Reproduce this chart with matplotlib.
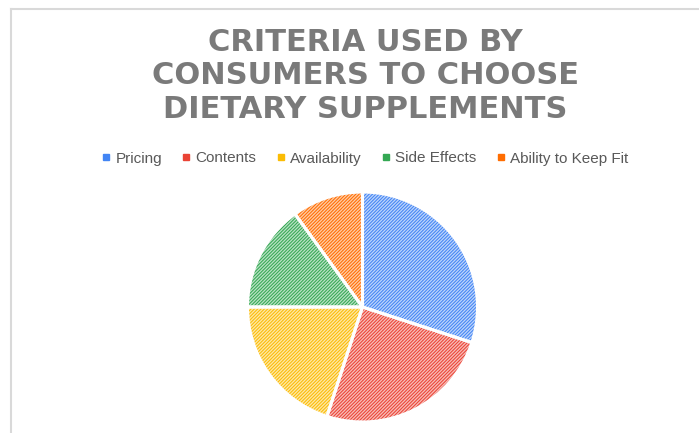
import matplotlib
matplotlib.use("Agg")
import matplotlib.pyplot as plt
from matplotlib.lines import Line2D
import matplotlib.colors as mcolors

title = "CRITERIA USED BY\nCONSUMERS TO CHOOSE\nDIETARY SUPPLEMENTS"
categories = ["Pricing", "Contents", "Availability", "Side Effects", "Ability to Keep Fit"]
values = [30, 25, 20, 15, 10]
colors = ["#4285F4", "#EA4335", "#FBBC04", "#34A853", "#FF6D01"]

plt.rcParams['hatch.linewidth'] = 0.75

W, H = 699, 433
fig = plt.figure(figsize=(W / 100, H / 100), dpi=100)
fig.patch.set_facecolor("white")

# chart border (light gray, runs off right/bottom)
fig.add_artist(Line2D([11 / W, 1], [1 - 8.5 / H, 1 - 8.5 / H], color="#d9d9d9", lw=1.5, transform=fig.transFigure))
fig.add_artist(Line2D([11 / W, 11 / W], [0, 1 - 8.5 / H], color="#d9d9d9", lw=1.5, transform=fig.transFigure))

fig.text(365 / W, 1 - 76 / H, title, ha="center", va="center", fontsize=22,
         fontweight="bold", color="#7a7a7a", family="DejaVu Sans", linespacing=1.19)

# pie
cx, cy, r = 362.5, 307, 115
ax = fig.add_axes([(cx - r) / W, (H - cy - r) / H, 2 * r / W, 2 * r / H])
tints = [mcolors.to_hex([c * 0.35 + 0.65 for c in mcolors.to_rgb(col)]) for col in colors]
wedges, _ = ax.pie(values, colors=tints, startangle=90, counterclock=False,
                   wedgeprops=dict(linewidth=0, hatch="//////////"))
for w, col in zip(wedges, colors):
    w.set_edgecolor(col)
    w.set_linewidth(0)
ax.pie(values, startangle=90, counterclock=False,
       wedgeprops=dict(fill=False, edgecolor="white", linewidth=2.2))
ax.set_xlim(-1.0, 1.0)
ax.set_ylim(-1.0, 1.0)
ax.set_aspect("equal")
ax.axis("off")

handles = [Line2D([], [], marker="s", linestyle="none", markersize=4.5,
                  markerfacecolor=c, markeredgecolor=c) for c in colors]
leg = fig.legend(handles, categories, loc="center", bbox_to_anchor=(365 / W, 1 - 158.5 / H),
                 ncol=5, frameon=False, handlelength=0.6, handletextpad=0.3,
                 columnspacing=1.3, prop={"family": "Liberation Sans", "size": 11})
for t in leg.get_texts():
    t.set_color("#595959")

fig.savefig("out.png", dpi=100, facecolor="white")
